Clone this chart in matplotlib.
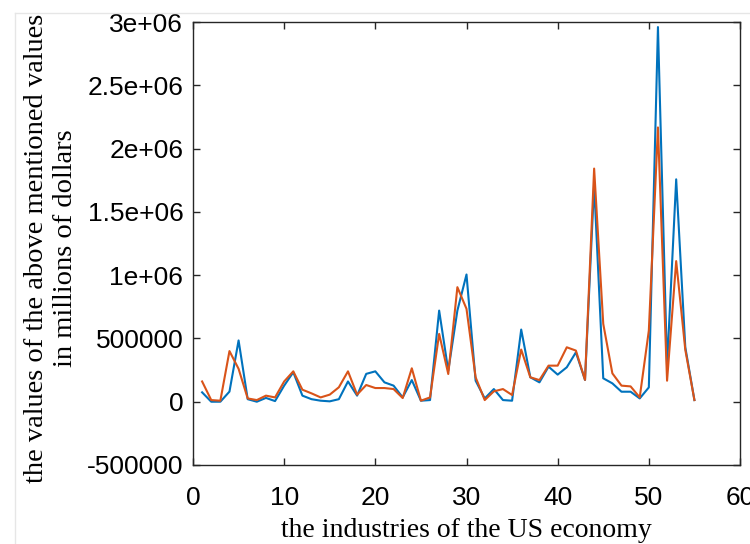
import numpy as np
import matplotlib.pyplot as plt
from matplotlib.ticker import FuncFormatter, MultipleLocator
from matplotlib.lines import Line2D

# industries 1..55
industry = np.arange(1, 56)

# blue series (values in millions of dollars)
blue_vals = [74000, 0, 0, 80000, 484000, 20000, 0, 30000, 5000, 127000,
             233000, 48000, 20000, 8000, 3000, 20000, 160000, 48000, 220000, 240000,
             153000, 127000, 34000, 171000, 8000, 13000, 720000, 245000, 720000, 1005000,
             166000, 26000, 100000, 13000, 8000, 570000, 193000, 153000, 277000, 214000,
             272000, 390000, 172000, 1715000, 185000, 145000, 79000, 79000, 26000, 113000,
             2960000, 280000, 1757000, 430000, 13000]

# orange series
orange_vals = [160000, 13000, 8000, 400000, 260000, 26000, 13000, 48000, 34000, 160000,
               240000, 95000, 66000, 34000, 56000, 114000, 240000, 56000, 132000, 108000,
               108000, 100000, 29000, 264000, 8000, 34000, 536000, 219000, 905000, 734000,
               193000, 13000, 82000, 100000, 53000, 412000, 193000, 171000, 285000, 285000,
               430000, 404000, 172000, 1842000, 615000, 224000, 127000, 121000, 34000, 562000,
               2167000, 166000, 1111000, 410000, 13000]

fig = plt.figure(figsize=(7.5, 5.44), dpi=100)
ax = fig.add_axes([193 / 750, 1 - 465 / 544, 547 / 750, 443 / 544])

ax.plot(industry, blue_vals, color='#0072BD', lw=1.5)
ax.plot(industry, orange_vals, color='#D95319', lw=1.5)

ax.set_xlim(0, 60)
ax.set_ylim(-500000, 3000000)
ax.xaxis.set_major_locator(MultipleLocator(10))
ax.yaxis.set_major_locator(MultipleLocator(500000))
ax.yaxis.set_major_formatter(FuncFormatter(lambda v, p: '%g' % v))

for s in ax.spines.values():
    s.set_color('#262626')
    s.set_linewidth(1.0)

ax.tick_params(direction='in', length=5, width=1, color='#262626',
               top=True, right=True, labelsize=19, labelcolor='black')
ax.tick_params(axis='x', pad=15)
ax.tick_params(axis='y', pad=7)
for lab in ax.get_xticklabels() + ax.get_yticklabels():
    lab.set_family('Liberation Sans')

ax.set_xlabel('the industries of the US economy', family='Liberation Serif',
              fontsize=20)
ax.xaxis.set_label_coords(0.5, -0.12)
ax.set_ylabel('the values of the above mentioned values\nin millions of dollars',
              family='Liberation Serif', fontsize=20.5, linespacing=1.2)
ax.yaxis.set_label_coords(-0.21, 0.49)

# faint frame of the surrounding window
fig.add_artist(Line2D([15 / 750, 1], [1 - 13 / 544, 1 - 13 / 544],
                      transform=fig.transFigure, color='#e6e6e6', lw=1))
fig.add_artist(Line2D([15 / 750, 15 / 750], [0, 1 - 13 / 544],
                      transform=fig.transFigure, color='#e6e6e6', lw=1))

fig.savefig('out.png', dpi=100)
